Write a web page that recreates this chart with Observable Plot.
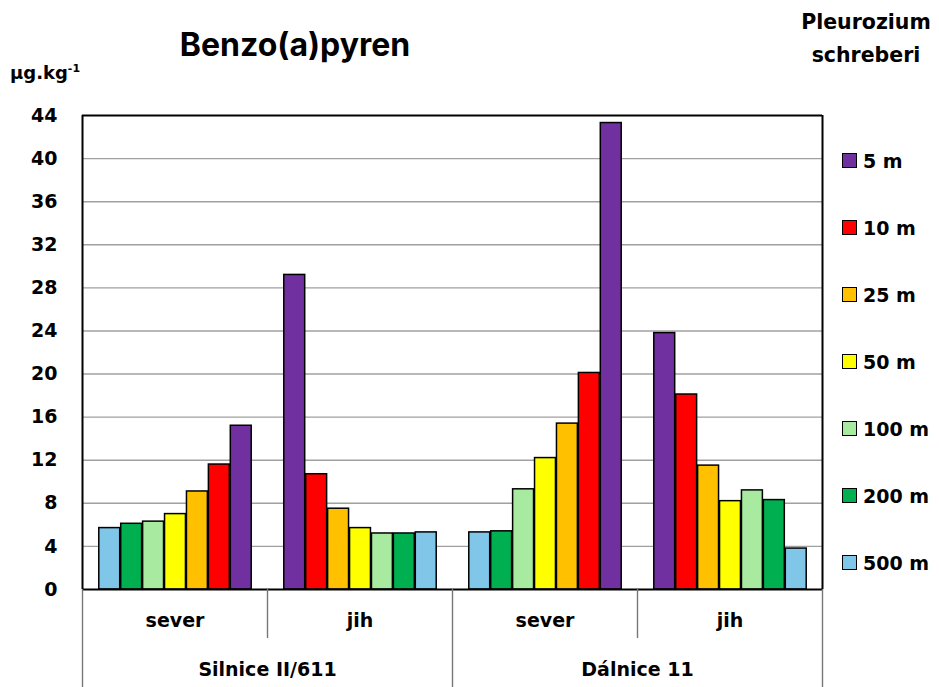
<!DOCTYPE html>
<html>
<head>
<meta charset="utf-8">
<script src="https://cdn.jsdelivr.net/npm/d3@7"></script>
<script src="https://cdn.jsdelivr.net/npm/@observablehq/plot@0.6"></script>
<style>
  body { margin: 0; background: #fff; }
  #wrap { position: relative; width: 939px; height: 687px; overflow: hidden; background: #fff; }
  .abs { position: absolute; white-space: nowrap; color: #000; }
  .title { font-family: "Inter", "Liberation Sans", sans-serif; font-weight: 700; font-size: 32px; line-height: 32px; }
  .unit { font-family: "DejaVu Sans", sans-serif; font-weight: 700; font-size: 18px; line-height: 20px; }
  .unit sup { font-size: 11px; vertical-align: 7px; line-height: 0; }
  .species { font-family: "DejaVu Sans", sans-serif; font-weight: 700; font-size: 20.5px; line-height: 33px; text-align: center; }
  .legend { font-family: "DejaVu Sans", sans-serif; font-weight: 700; font-size: 19px; }
  .row { display: flex; align-items: center; height: 15px; margin-bottom: 52px; }
  .sw { width: 13px; height: 13px; border: 1px solid #000; margin-right: 6px; }
</style>
</head>
<body>
<div id="wrap"></div>
<script>
// ---- data ----
const roads = ["Silnice II/611", "Dálnice 11"];
const sides = ["sever", "jih"];
const distances = ["5 m", "10 m", "25 m", "50 m", "100 m", "200 m", "500 m"];
const colors = ["#7030A0", "#FF0000", "#FFC000", "#FFFF00", "#A8EBA0", "#00B050", "#7FC6E8"];
const yTicks = [0, 4, 8, 12, 16, 20, 24, 28, 32, 36, 40, 44];
// values in distance order 5 m ... 500 m (µg.kg-1)
const silniceSever = [15.2, 11.6, 9.1, 7.0, 6.3, 6.1, 5.7];
const silniceJih   = [29.2, 10.7, 7.5, 5.7, 5.2, 5.2, 5.3];
const dalniceSever = [43.3, 20.1, 15.4, 12.2, 9.3, 5.4, 5.3];
const dalniceJih   = [23.8, 18.1, 11.5, 8.2, 9.2, 8.3, 3.8];

const groupDefs = [
  {road: roads[0], side: sides[0], values: silniceSever},
  {road: roads[0], side: sides[1], values: silniceJih},
  {road: roads[1], side: sides[0], values: dalniceSever},
  {road: roads[1], side: sides[1], values: dalniceJih}
].map(g => ({...g, key: g.road + " | " + g.side}));
const groupKeys = groupDefs.map(g => g.key);

const bars = [];
groupDefs.forEach(g => g.values.forEach((v, i) => bars.push({
  group: g.key, distance: distances[i], value: v,
  slot: g.side === "sever" ? distances.length - 1 - i : i
})));

// ---- layout ----
const W = 939, H = 687, mL = 81, mR = 116, mT = 115, mB = 98;
const frameH = H - mT - mB;
const pad = 0.72;
const xDomain = [-pad, distances.length + pad];

const edges = groupDefs.map((g, i) => ({group: g.key, x: xDomain[0], full: i % 2 === 0}));
edges.push({group: groupKeys[groupKeys.length - 1], x: xDomain[1], full: true});
const outer = [edges[0], edges[edges.length - 1]];
const roadLabels = roads.map(r => ({road: r, key: groupDefs.find(g => g.road === r).key}));

const chart = Plot.plot({
  width: W, height: H,
  marginLeft: mL, marginRight: mR, marginTop: mT, marginBottom: mB,
  style: {fontFamily: "DejaVu Sans, sans-serif", fontWeight: "bold", fontSize: "19px", color: "#000", background: "#fff", overflow: "visible"},
  fx: {domain: groupKeys, padding: 0, axis: null},
  x: {domain: xDomain, axis: null},
  y: {domain: [0, 44], ticks: yTicks, tickSize: 0, tickPadding: 25, label: null},
  color: {domain: distances, range: colors},
  marks: [
    Plot.gridY(yTicks.filter(t => t > 0 && t < 44), {stroke: "#a0a0a0", strokeOpacity: 1, strokeWidth: 1.4}),
    Plot.rectY(bars, {fx: "group", x: "slot", interval: 1, y: "value", fill: "distance", stroke: "#000", strokeWidth: 1.5}),
    Plot.ruleY([0, 44], {stroke: "#000", strokeWidth: 2}),
    Plot.ruleX(outer, {fx: "group", x: "x", stroke: "#000", strokeWidth: 2}),
    Plot.ruleX(edges.filter(d => d.full), {fx: "group", x: "x", stroke: "#777", strokeWidth: 1.4, insetTop: frameH, insetBottom: -mB}),
    Plot.ruleX(edges.filter(d => !d.full), {fx: "group", x: "x", stroke: "#777", strokeWidth: 1.4, insetTop: frameH, insetBottom: -49}),
    Plot.text(groupDefs, {fx: "key", text: "side", frameAnchor: "bottom", dy: 31, lineAnchor: "middle", fontSize: 19, fill: "#000"}),
    Plot.text(roadLabels, {fx: "key", text: "road", frameAnchor: "bottom-right", textAnchor: "middle", dy: 80, lineAnchor: "middle", fontSize: 19, fill: "#000"})
  ]
});

const wrap = document.getElementById("wrap");
wrap.appendChild(chart);

// titles
const title = document.createElement("div");
title.className = "abs title";
title.textContent = "Benzo(a)pyren";
title.style.left = "295px"; title.style.top = "29px"; title.style.transform = "translateX(-50%)";
wrap.appendChild(title);

const unit = document.createElement("div");
unit.className = "abs unit";
unit.innerHTML = "µg.kg<sup>-1</sup>";
unit.style.left = "10px"; unit.style.top = "63px";
wrap.appendChild(unit);

const species = document.createElement("div");
species.className = "abs species";
species.innerHTML = "Pleurozium<br>schreberi";
species.style.left = "866px"; species.style.top = "6px"; species.style.transform = "translateX(-50%)";
wrap.appendChild(species);

// legend
const legend = document.createElement("div");
legend.className = "abs legend";
legend.style.left = "842px"; legend.style.top = "153px";
distances.forEach((d, i) => {
  const row = document.createElement("div");
  row.className = "row";
  const sw = document.createElement("div");
  sw.className = "sw";
  sw.style.background = colors[i];
  const t = document.createElement("span");
  t.textContent = d;
  row.appendChild(sw); row.appendChild(t);
  legend.appendChild(row);
});
wrap.appendChild(legend);
</script>
</body>
</html>
